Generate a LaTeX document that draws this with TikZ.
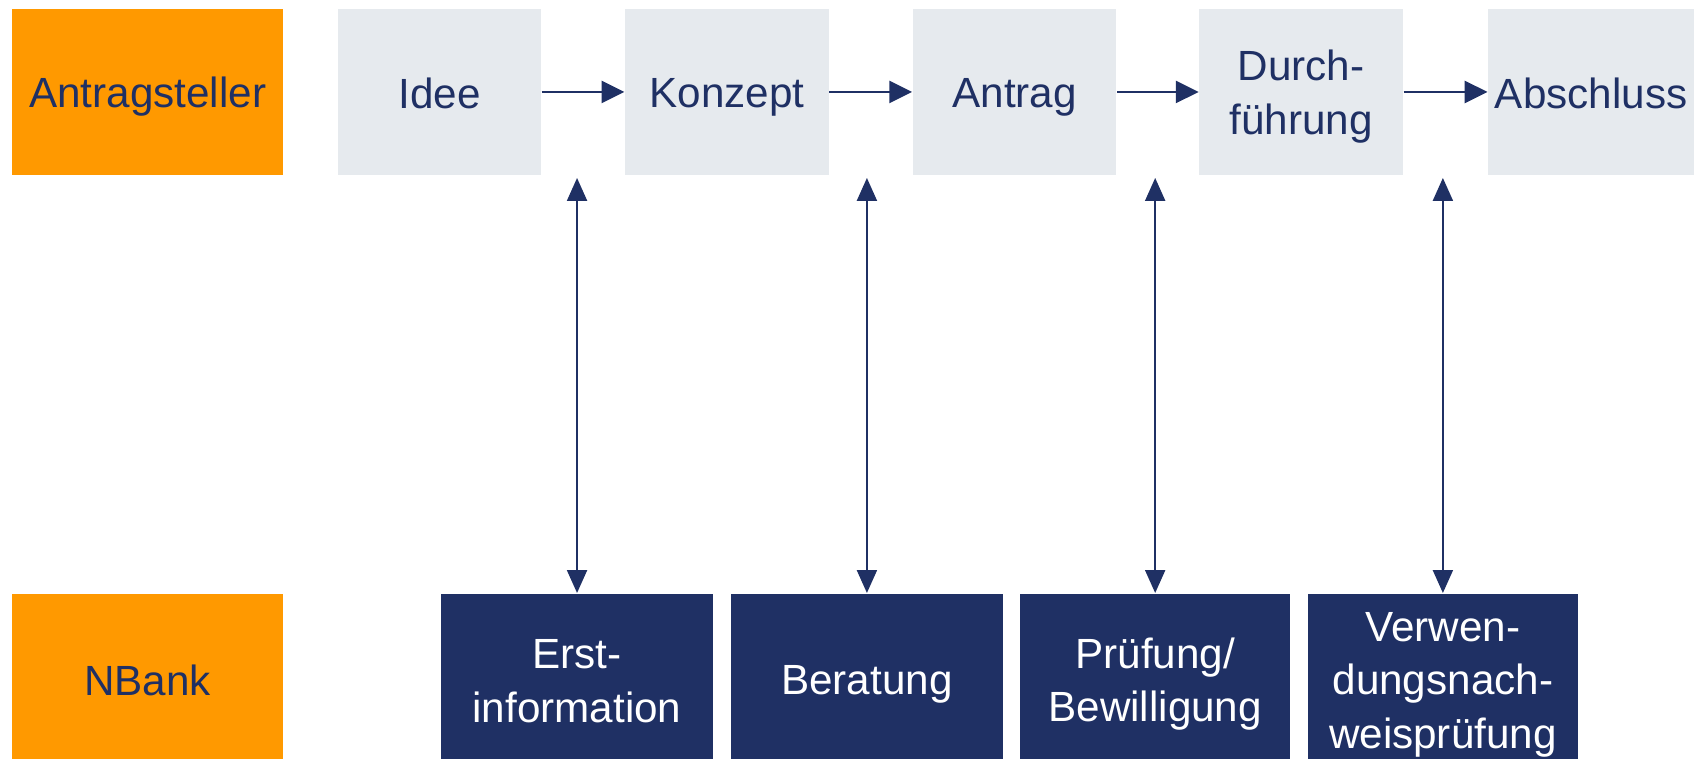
\documentclass[tikz,border=0pt]{standalone}
\usepackage{fontspec}
\setmainfont{Liberation Sans}
\usetikzlibrary{arrows.meta}
\definecolor{orng}{HTML}{FF9900}
\definecolor{lgray}{HTML}{E6EAEE}
\definecolor{navy}{HTML}{1F3064}
\newcommand\ts{\rule[-2pt]{0pt}{12.5pt}}
\begin{document}
\begin{tikzpicture}[x=0.01cm,y=-0.01cm,
  base/.style={inner sep=0pt, align=center, font=\fontsize{11.1}{14}\selectfont},
  lanebox/.style={base, fill=orng, text=navy, minimum width=2.51cm},
  stepbox/.style={base, fill=lgray, text=navy, minimum height=1.54cm},
  bankbox/.style={base, fill=navy, text=white, minimum height=1.58cm},
  flow/.style={draw=navy, line width=0.6pt, -{Triangle[length=6pt,width=5.8pt]}},
  dbl/.style={draw=navy, line width=0.6pt, {Triangle[length=6pt,width=5.2pt]}-{Triangle[length=6pt,width=5.2pt]}}]
\fill[white] (0,0) rectangle (1568,700.8);
\useasboundingbox (0,0) rectangle (1568,700.8);
% lanes
\node[lanebox, minimum height=1.54cm] (ant) at (136.5,85) {\ts Antragsteller};
\node[lanebox, minimum height=1.58cm] (nbank) at (136.5,628) {\ts NBank};
% steps
\node[stepbox, minimum width=1.87cm] (idee) at (406.5,85) {\ts Idee};
\node[stepbox, minimum width=1.88cm] (konz) at (672,85) {\ts Konzept};
\node[stepbox, minimum width=1.88cm] (antr) at (938,85) {\ts Antrag};
\node[stepbox, minimum width=1.88cm] (durch) at (1203,85) {\ts Durch-\\\ts führung};
\node[stepbox, minimum width=1.90cm] (absch) at (1471,85) {\ts Abschluss};
% bank boxes
\node[bankbox, minimum width=2.51cm] (erst) at (533.5,628) {\ts Erst-\\\ts information};
\node[bankbox, minimum width=2.51cm] (ber) at (801.5,628) {\ts Beratung};
\node[bankbox, minimum width=2.50cm] (pruef) at (1068,628) {\ts Prüfung/\\\ts Bewilligung};
\node[bankbox, minimum width=2.50cm] (verw) at (1334,628) {\ts Verwen-\\\ts dungsnach-\\\ts weisprüfung};
% flow arrows
\draw[flow] (idee) -- (konz);
\draw[flow] (konz) -- (antr);
\draw[flow] (antr) -- (durch);
\draw[flow] (durch) -- (absch);
% interaction arrows
\foreach \b in {erst,ber,pruef,verw}{
  \draw[dbl, shorten <=0.5pt] (\b.north |- idee.south) -- (\b.north);
}
\end{tikzpicture}
\end{document}
